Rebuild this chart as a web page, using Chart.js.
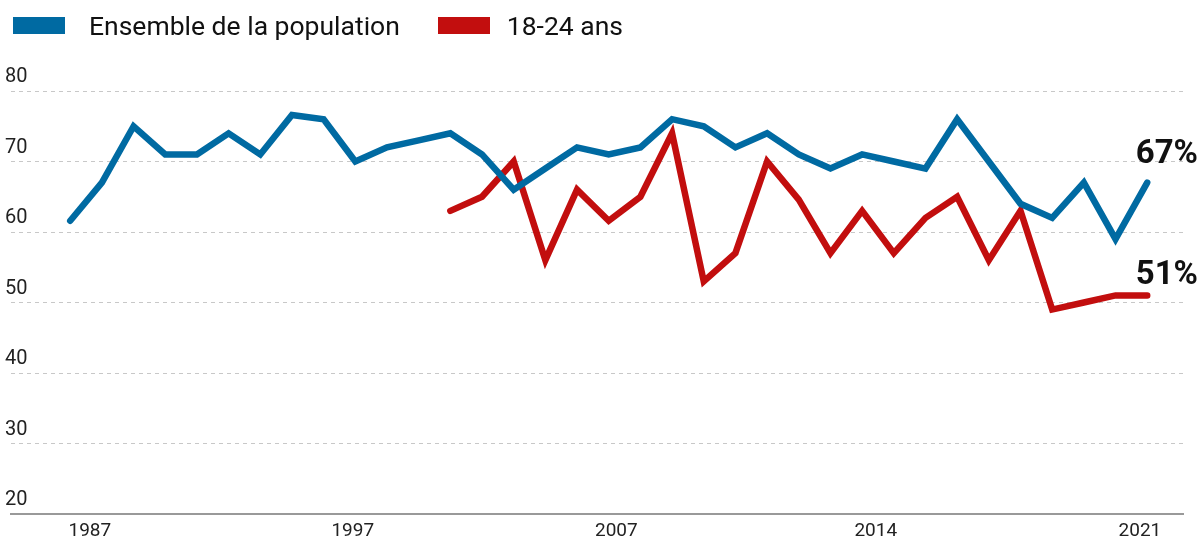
<!DOCTYPE html>
<html>
<head>
<meta charset="utf-8">
<script src="https://cdn.jsdelivr.net/npm/chart.js@4/dist/chart.umd.min.js"></script>
<style>
  html, body { margin: 0; padding: 0; background: #fff; }
  #wrap { position: relative; width: 1204px; height: 540px; }
  #legend { position: absolute; left: 13px; top: 10px; display: flex; align-items: center;
            font-family: Roboto, sans-serif; font-size: 26.5px; color: #111; }
  .item { display: flex; align-items: center; margin-right: 38px; }
  .box { width: 52px; height: 17px; margin-right: 24px; }
  .item + .item .box { margin-right: 17px; }
  canvas { position: absolute; left: 0; top: 0; }
</style>
</head>
<body>
<div id="wrap">
  <canvas id="c" width="1204" height="540"></canvas>
  <div id="legend"></div>
</div>
<script>
// ---- data ----
const seriesNames = ['Ensemble de la population', '18-24 ans'];
const seriesColors = ['#006aa2', '#c20e0e'];
const ensemble = [61.6, 67, 75, 71, 71, 74, 71, 76.6, 76, 70, 72, 73, 74, 71, 66, 69, 72, 71,
                  72, 76, 75, 72, 74, 71, 69, 71, 70, 69, 76, 70, 64, 62, 67, 59, 67];
const jeunesStart = 12;
const jeunes = [63, 65, 70, 56, 66, 61.6, 65, 74, 53, 57, 70, 64.6, 57, 63, 57, 62, 65, 56, 63,
                49, 50, 51, 51];
const tickLabels = ['1987', '1997', '2007', '2014', '2021'];
const tickPositions = [0.62, 8.92, 17.24, 25.43, 33.77];
const yTicks = [20, 30, 40, 50, 60, 70, 80];

// ---- build ----
const ptsEnsemble = ensemble.map((v, i) => ({ x: i, y: v }));
const ptsJeunes = jeunes.map((v, i) => ({ x: i + jeunesStart, y: v }));

const legend = document.getElementById('legend');
seriesNames.forEach((n, i) => {
  const it = document.createElement('div'); it.className = 'item';
  const b = document.createElement('div'); b.className = 'box'; b.style.background = seriesColors[i];
  const t = document.createElement('span'); t.textContent = n;
  it.appendChild(b); it.appendChild(t); legend.appendChild(it);
});

const endLabels = {
  id: 'endLabels',
  afterDatasetsDraw(chart) {
    const ctx = chart.ctx;
    const offsets = [20, 11];
    ctx.save();
    ctx.font = 'bold 33px Roboto, sans-serif';
    ctx.fillStyle = '#111';
    ctx.textAlign = 'right';
    ctx.textBaseline = 'alphabetic';
    chart.data.datasets.forEach((ds, i) => {
      const meta = chart.getDatasetMeta(i);
      const last = meta.data[meta.data.length - 1];
      const val = ds.data[ds.data.length - 1].y;
      ctx.fillText(Math.round(val) + '%', chart.chartArea.right + 15, last.y - offsets[i]);
    });
    ctx.restore();
  }
};

new Chart(document.getElementById('c'), {
  type: 'line',
  data: {
    datasets: [
      { label: seriesNames[0], data: ptsEnsemble, borderColor: seriesColors[0], borderWidth: 6.5,
        pointRadius: 0, tension: 0, borderCapStyle: 'round', borderJoinStyle: 'miter' },
      { label: seriesNames[1], data: ptsJeunes, borderColor: seriesColors[1], borderWidth: 6.5,
        pointRadius: 0, tension: 0, borderCapStyle: 'round', borderJoinStyle: 'miter' }
    ]
  },
  options: {
    responsive: false,
    animation: false,
    layout: { padding: { left: 11, right: 21, top: 91, bottom: 0 } },
    plugins: { legend: { display: false }, tooltip: { enabled: false } },
    scales: {
      x: {
        type: 'linear',
        min: -1.87, max: 35.13,
        grid: { display: false, drawTicks: false },
        border: { display: true, color: '#999', width: 2 },
        afterBuildTicks: (scale) => { scale.ticks = tickPositions.map(v => ({ value: v })); },
        afterFit: (scale) => { scale.height = 26; },
        ticks: {
          autoSkip: false, maxRotation: 0, padding: 8,
          font: { family: 'Roboto', size: 19, lineHeight: 1 }, color: '#222',
          callback: (v, i) => tickLabels[i]
        }
      },
      y: {
        min: 20, max: 80,
        afterBuildTicks: (scale) => { scale.ticks = yTicks.map(v => ({ value: v })); },
        grid: { drawTicks: false, color: (c) => c.tick && c.tick.value === 20 ? 'rgba(0,0,0,0)' : '#c8c8c8', lineWidth: 1 },
        border: { display: false, dash: [4, 4] },
        ticks: {
          mirror: true, padding: -2, labelOffset: -14,
          font: { family: 'Roboto', size: 20 }, color: '#222'
        }
      }
    }
  },
  plugins: [endLabels]
});
</script>
</body>
</html>
